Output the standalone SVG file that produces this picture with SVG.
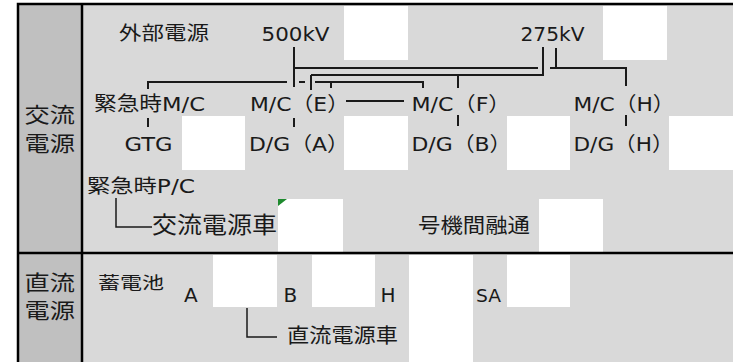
<svg xmlns="http://www.w3.org/2000/svg" width="733" height="362" viewBox="0 0 733 362">
<style>
.bg{fill:#d9d9d9}
.lab{fill:#c0c0c0}
.w{fill:#ffffff}
.t{font-family:"DejaVu Sans","Noto Sans CJK JP",sans-serif;fill:#1a1a1a}
.k{font-family:"Noto Sans CJK JP","DejaVu Sans",sans-serif;fill:#1a1a1a}
.ln{fill:none;stroke:#1a1a1a;stroke-width:2}
.thin{fill:none;stroke:#1a1a1a;stroke-width:1.5}
.bd{fill:none;stroke:#000;stroke-width:2.5}
</style>
<rect width="733" height="362" fill="#ffffff"/>
<g id="table">
<rect class="bg" x="18" y="4" width="720" height="360"/>
<rect class="lab" x="18" y="4" width="64" height="360"/>
<rect class="w" x="344" y="6" width="64" height="54"/>
<rect class="w" x="603" y="6" width="64" height="54"/>
<rect class="w" x="182" y="116" width="63" height="54"/>
<rect class="w" x="344" y="116" width="64" height="54"/>
<rect class="w" x="507" y="116" width="63" height="54"/>
<rect class="w" x="669" y="116" width="64" height="54"/>
<rect class="w" x="278" y="199" width="65" height="53"/>
<rect class="w" x="539" y="199" width="64" height="53"/>
<rect class="w" x="213" y="255" width="64" height="52"/>
<rect class="w" x="312" y="255" width="63" height="52"/>
<rect class="w" x="409" y="255" width="64" height="107"/>
<rect class="w" x="507" y="255" width="63" height="52"/>
<polygon points="278,199 287,199 278,206" fill="#1e8a2e"/>
<path class="bd" d="M18 364 V4 H740 M82 4 V364 M18 253 H740"/>
</g>
<g id="labels">
<text class="k" font-size="21" transform="scale(1.2,1)"><tspan x="20.5" y="122">交流</tspan><tspan x="20.5" y="151">電源</tspan></text>
<text class="k" font-size="21" transform="scale(1.2,1)"><tspan x="20.5" y="290">直流</tspan><tspan x="20.5" y="318">電源</tspan></text>
</g>
<g id="n-external"><text class="t" x="119" y="40" font-size="19.5" textLength="90" lengthAdjust="spacingAndGlyphs">外部電源</text></g>
<g id="n-500kv"><text class="t" x="261.5" y="41" font-size="20" textLength="68" lengthAdjust="spacingAndGlyphs">500kV</text></g>
<g id="n-275kv"><text class="t" x="520.5" y="41" font-size="20" textLength="64" lengthAdjust="spacingAndGlyphs">275kV</text></g>
<g id="n-emc"><text class="t" x="94" y="111" font-size="20" textLength="111" lengthAdjust="spacingAndGlyphs">緊急時M/C</text></g>
<g id="n-mce"><text class="t" x="250" y="111" font-size="20" textLength="99" lengthAdjust="spacingAndGlyphs">M/C（E）</text></g>
<g id="n-mcf"><text class="t" x="411.5" y="111" font-size="20" textLength="99" lengthAdjust="spacingAndGlyphs">M/C（F）</text></g>
<g id="n-mch"><text class="t" x="573.5" y="111" font-size="20" textLength="101" lengthAdjust="spacingAndGlyphs">M/C（H）</text></g>
<g id="n-gtg"><text class="t" x="124.5" y="151" font-size="20" textLength="48" lengthAdjust="spacingAndGlyphs">GTG</text></g>
<g id="n-dga"><text class="t" x="249" y="151" font-size="20" textLength="100" lengthAdjust="spacingAndGlyphs">D/G（A）</text></g>
<g id="n-dgb"><text class="t" x="411.5" y="151" font-size="20" textLength="100" lengthAdjust="spacingAndGlyphs">D/G（B）</text></g>
<g id="n-dgh"><text class="t" x="573.5" y="151" font-size="20" textLength="100" lengthAdjust="spacingAndGlyphs">D/G（H）</text></g>
<g id="n-epc"><text class="t" x="87" y="193" font-size="19" textLength="108" lengthAdjust="spacingAndGlyphs">緊急時P/C</text></g>
<g id="n-accar"><text class="t" x="152" y="233" font-size="23" textLength="125" lengthAdjust="spacingAndGlyphs">交流電源車</text></g>
<g id="n-interunit"><text class="t" x="418" y="233" font-size="20.5" textLength="112" lengthAdjust="spacingAndGlyphs">号機間融通</text></g>
<g id="n-battery">
<text class="t" x="98" y="289" font-size="17.5" textLength="66" lengthAdjust="spacingAndGlyphs">蓄電池</text>
<text class="t" x="184" y="302" font-size="20">A</text>
<text class="t" x="283.5" y="302" font-size="20">B</text>
<text class="t" x="380.5" y="302" font-size="20">H</text>
<text class="t" x="476" y="302" font-size="17" textLength="25" lengthAdjust="spacingAndGlyphs">SA</text>
</g>
<g id="n-dccar"><text class="t" x="287" y="343" font-size="20.5" textLength="111" lengthAdjust="spacingAndGlyphs">直流電源車</text></g>
<g id="connectors">
<path class="ln" d="M294 47 V87 M294 68 H538 M543 47 V76 M311 75 H543 M311 75 V90 M458 75 V88 M315 82 H423 V88 M331 82 V88 M148 89 V82 H287 M299 82 H305 M556 48 V68 M550 68 H626 V86 M346 101 H404"/>
<path class="ln" d="M148 118 V127 M294 118 V127 M458 115 V126 M626 115 V126"/>
<path class="thin" d="M116 198 V227 H152 M247 308 V337 H277"/>
</g>
</svg>
